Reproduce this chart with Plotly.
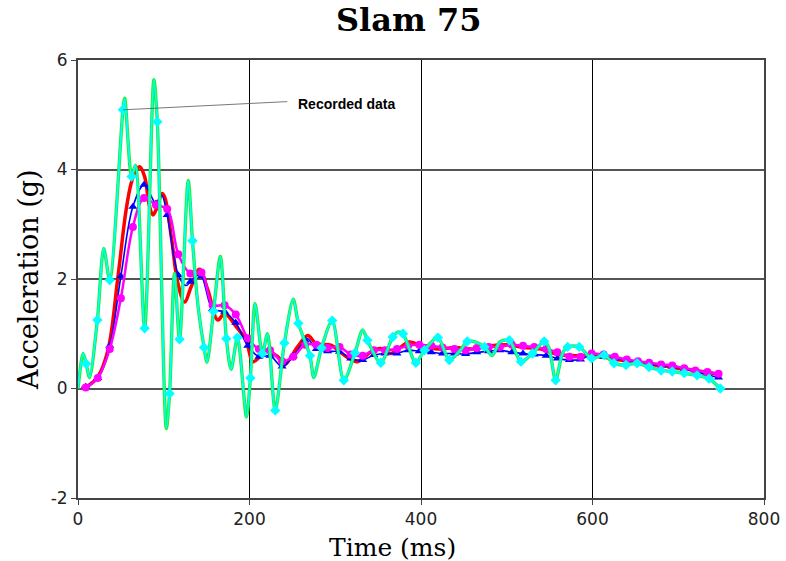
import plotly.graph_objects as go

# ---------------- data ----------------
# Modelled response (solid red, no markers)
red_t = [4, 12, 23, 35, 46.6, 56, 62, 68, 72, 77.7, 83.5, 87.4, 92, 97.8, 101, 108.8, 116.5, 124.3,
         132, 141.7, 151.4, 163, 170.9, 184.5, 196, 204, 213.6, 220, 233, 240.7, 256, 268, 277.7, 295,
         313, 326, 341.7, 353, 365, 386, 400, 420, 440, 460, 480, 500, 520, 540, 560, 580, 600, 620,
         640, 660, 680, 700, 720, 740, 750]
red_a = [0.0, 0.05, 0.21, 0.70, 2.04, 3.25, 3.75, 4.0, 4.05, 3.87, 3.32, 3.17, 3.3, 3.56, 3.5, 2.77,
         1.92, 1.58, 1.86, 2.18, 1.80, 1.25, 1.37, 1.13, 0.88, 0.49, 0.60, 0.67, 0.58, 0.43, 0.76, 0.97,
         0.82, 0.79, 0.58, 0.49, 0.67, 0.73, 0.64, 0.85, 0.78, 0.72, 0.75, 0.72, 0.78, 0.80, 0.75, 0.72,
         0.62, 0.60, 0.60, 0.55, 0.50, 0.45, 0.42, 0.37, 0.33, 0.28, 0.25]

# Sample instants carrying markers (blue and magenta models)
sample_t = [9, 23, 37, 50, 64, 77, 91, 104, 117, 131, 144, 157, 171, 184, 198, 211, 224, 238, 251,
            265, 278, 291, 305, 318, 332, 345, 358, 372, 385, 398, 412, 425, 439, 452, 465, 479, 492,
            506, 519, 532, 546, 559, 573, 586, 599, 613, 626, 640, 653, 666, 680, 693, 707, 720, 734, 747]

# Blue model (triangles)
blue_a = [0.03, 0.19, 0.78, 2.05, 3.32, 3.72, 3.38, 3.17, 2.07, 1.95, 2.05, 1.45, 1.40, 1.20, 0.78,
          0.58, 0.60, 0.40, 0.60, 0.88, 0.72, 0.68, 0.67, 0.55, 0.52, 0.61, 0.64, 0.64, 0.70, 0.68,
          0.66, 0.64, 0.64, 0.63, 0.66, 0.68, 0.70, 0.66, 0.64, 0.62, 0.60, 0.55, 0.52, 0.53, 0.62,
          0.58, 0.55, 0.52, 0.48, 0.45, 0.42, 0.40, 0.36, 0.30, 0.25, 0.20]
blue_extra_t = [4, 97.5, 126, 138, 268]
blue_extra_a = [0.0, 3.53, 1.88, 2.06, 0.91]

# Magenta model (circles)
mag_a = [0.02, 0.19, 0.72, 1.65, 2.95, 3.48, 3.35, 3.28, 2.45, 2.10, 2.12, 1.52, 1.52, 1.35, 0.92,
         0.72, 0.70, 0.50, 0.58, 0.80, 0.80, 0.74, 0.76, 0.62, 0.60, 0.70, 0.70, 0.72, 0.78, 0.80,
         0.78, 0.75, 0.72, 0.70, 0.74, 0.76, 0.76, 0.80, 0.78, 0.76, 0.72, 0.66, 0.58, 0.58, 0.64,
         0.62, 0.58, 0.53, 0.50, 0.47, 0.44, 0.42, 0.37, 0.33, 0.30, 0.27]
mag_extra_t = [4]
mag_extra_a = [0.0]

# Recorded data: marked samples (diamonds)
rec_mark_t = [9.5, 22.6, 37, 52.4, 62.5, 77.7, 92.5, 106.8, 118.4, 133.5, 147, 158, 173, 186, 201,
              215, 230, 240.7, 257, 270.5, 284, 296.5, 310, 323, 337.5, 353, 367, 379, 394, 404,
              419.7, 433, 454, 474, 503, 516.6, 530, 543.6, 557, 571, 584.5, 599, 613.5, 625, 639,
              652, 666, 680, 693, 707, 722, 736, 749]
rec_mark_a = [0.45, 1.25, 1.98, 5.09, 3.87, 1.10, 4.87, -0.09, 0.90, 2.70, 0.75, 1.41, 0.91, 0.93,
              0.19, 0.64, -0.40, 0.83, 1.19, 0.60, 0.74, 1.24, 0.15, 0.65, 0.88, 0.47, 0.94, 1.00,
              0.47, 0.70, 0.93, 0.52, 0.86, 0.76, 0.88, 0.49, 0.64, 0.86, 0.15, 0.76, 0.76, 0.55,
              0.61, 0.46, 0.43, 0.46, 0.39, 0.33, 0.31, 0.28, 0.24, 0.18, 0.0]
# Recorded data: peaks and troughs between the marked samples
rec_peak_t = [0, 6, 13.5, 30, 54.5, 67, 88.5, 103, 112.5, 128.5, 140, 150.5, 166, 178.5, 196.5,
              206.5, 221, 251, 275, 332, 373, 446, 463, 483, 492, 549, 565]
rec_peak_a = [0.0, 0.64, 0.2, 2.56, 5.3, 4.08, 5.64, -0.73, 2.1, 3.8, 1.5, 0.48, 2.41, 0.35, -0.52,
              1.55, 1.0, 1.63, 0.2, 1.07, 1.03, 0.7, 0.85, 0.6, 0.85, 0.75, 0.64]

note_text = "Recorded data"
note_tail = (244, 5.24)

y_ticks = [-2, 0, 2, 4, 6]
y_tick_text = ["-2", "0", "2", "4", "6"]
x_ticks = [0, 200, 400, 600, 800]


def merged(t1, a1, t2, a2):
    pts = sorted(zip(list(t1) + list(t2), list(a1) + list(a2)))
    return [p[0] for p in pts], [p[1] for p in pts]


blue_t, blue_y = merged(sample_t, blue_a, blue_extra_t, blue_extra_a)
mag_t, mag_y = merged(sample_t, mag_a, mag_extra_t, mag_extra_a)
rec_t, rec_y = merged(rec_mark_t, rec_mark_a, rec_peak_t, rec_peak_a)

fig = go.Figure()

fig.add_trace(go.Scatter(x=red_t, y=red_a, mode="lines",
                         line=dict(color="#ff0000", width=3.5, shape="spline"),
                         showlegend=False, hoverinfo="skip"))

fig.add_trace(go.Scatter(x=blue_t, y=blue_y, mode="lines",
                         line=dict(color="#0000ff", width=1.6, shape="spline"),
                         showlegend=False, hoverinfo="skip"))
fig.add_trace(go.Scatter(x=sample_t, y=blue_a, mode="markers",
                         marker=dict(symbol="triangle-up", size=8, color="#0000ff"),
                         showlegend=False))

fig.add_trace(go.Scatter(x=mag_t, y=mag_y, mode="lines",
                         line=dict(color="#ff00ff", width=2.5, shape="spline"),
                         showlegend=False, hoverinfo="skip"))
fig.add_trace(go.Scatter(x=sample_t, y=mag_a, mode="markers",
                         marker=dict(symbol="circle", size=8, color="#ff00ff"),
                         showlegend=False))

# recorded trace: green outer stroke with a cyan core
fig.add_trace(go.Scatter(x=rec_t, y=rec_y, mode="lines",
                         line=dict(color="#22ee22", width=3.4, shape="spline", smoothing=0.8),
                         showlegend=False, hoverinfo="skip"))
fig.add_trace(go.Scatter(x=rec_t, y=rec_y, mode="lines",
                         line=dict(color="#00ffff", width=1.8, shape="spline", smoothing=0.8),
                         showlegend=False, hoverinfo="skip"))
fig.add_trace(go.Scatter(x=rec_mark_t, y=rec_mark_a, mode="markers",
                         marker=dict(symbol="diamond", size=8, color="#00ffff"),
                         showlegend=False))

# leader line from the recorded peak to its label
i_pk = max(range(10), key=lambda i: rec_mark_a[i] if rec_mark_t[i] < 60 else -9)
fig.add_shape(type="line", xref="x", yref="y",
              x0=rec_mark_t[i_pk], y0=rec_mark_a[i_pk], x1=note_tail[0], y1=note_tail[1],
              line=dict(color="#555555", width=0.8))
fig.add_annotation(x=note_tail[0] + 10, y=note_tail[1] - 0.04, xref="x", yref="y",
                   text="<b>" + note_text + "</b>", showarrow=False, xanchor="left",
                   yanchor="middle",
                   font=dict(family="Liberation Sans, Arial", size=14, color="#000000"))

serif = "DejaVu Serif, Liberation Serif, serif"
fig.add_annotation(x=0.4825, y=1.092, xref="paper", yref="paper", text="<b>Slam 75</b>",
                   showarrow=False, xanchor="center", yanchor="middle",
                   font=dict(family=serif, size=32, color="#000000"))
fig.add_annotation(x=0.459, y=-0.114, xref="paper", yref="paper", text="Time (ms)",
                   showarrow=False, xanchor="center", yanchor="middle",
                   font=dict(family=serif, size=25, color="#000000"))
fig.add_annotation(x=-0.072, y=0.497, xref="paper", yref="paper", text="Acceleration (g)",
                   showarrow=False, xanchor="center", yanchor="middle", textangle=-90,
                   font=dict(family=serif, size=27, color="#000000"))

tickfont = dict(family="DejaVu Sans, Liberation Sans", size=17, color="#222222")
fig.update_xaxes(range=[0, 800], tickvals=x_ticks, showgrid=True, automargin=False,
                 gridcolor="#000000", gridwidth=1, zeroline=False, showline=True,
                 linecolor="#444444", linewidth=2, mirror=True, ticks="outside", ticklen=5,
                 tickcolor="#444444", tickfont=tickfont)
fig.update_yaxes(range=[-2, 6], tickvals=y_ticks, ticktext=y_tick_text, showgrid=True,
                 automargin=False,
                 gridcolor="#555555", gridwidth=2, zeroline=False, showline=True,
                 linecolor="#444444", linewidth=2, mirror=True, ticks="outside", ticklen=5,
                 tickcolor="#444444", tickfont=tickfont)

fig.update_layout(width=786, height=561, margin=dict(l=78, r=22, t=60, b=63),
                  paper_bgcolor="#ffffff", plot_bgcolor="#ffffff", showlegend=False)

fig.write_html("out.html")
